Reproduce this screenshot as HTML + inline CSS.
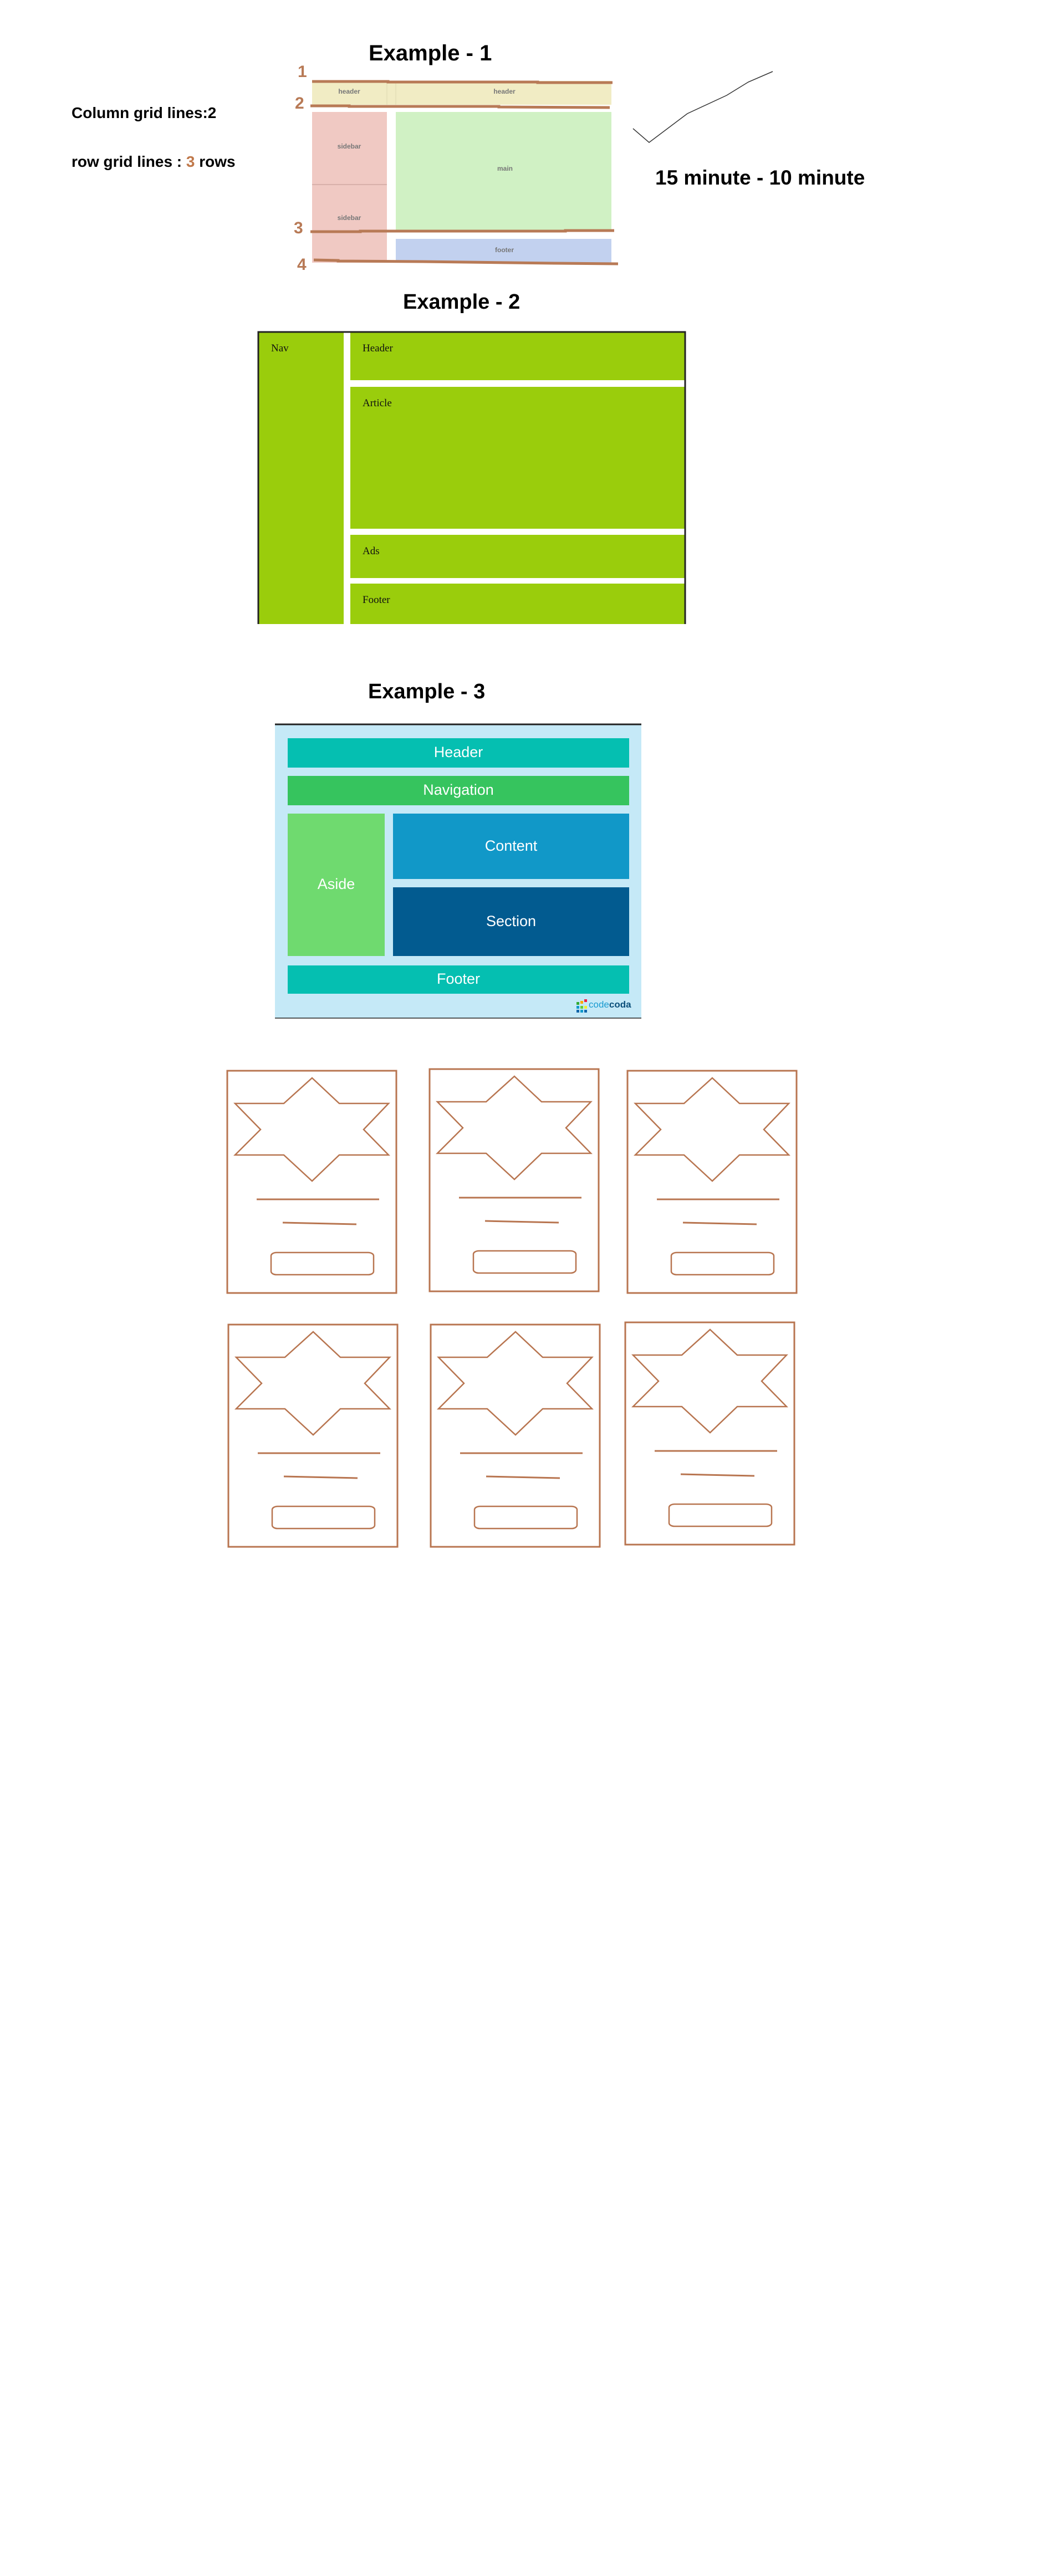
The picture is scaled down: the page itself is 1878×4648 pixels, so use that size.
<!DOCTYPE html>
<html><head><meta charset="utf-8"><style>
body{margin:0;width:1878px;height:4648px;background:#fff;position:relative;overflow:hidden;font-family:"Liberation Sans",sans-serif}
.t{position:absolute;white-space:nowrap}
.b{font-weight:bold;color:#000}
.ser{font-family:"Liberation Serif",serif;font-size:19px;color:#111}
.w{color:#fff;font-size:27px;text-align:center}
.sm{font-size:12px;font-weight:bold;color:#777;transform:translateX(-50%)}
.n{color:#b87a56;font-weight:bold;font-size:30px}
</style></head><body>
<svg width="1878" height="4648" style="position:absolute;left:0;top:0">
<rect x="563" y="146" width="540" height="43" fill="#f1ecc4"/>
<line x1="698" y1="146" x2="698" y2="189" stroke="#ddd8b0"/><line x1="714" y1="146" x2="714" y2="189" stroke="#ddd8b0"/>
<rect x="563" y="202" width="135" height="272" fill="#f0c9c3"/>
<line x1="563" y1="333" x2="698" y2="333" stroke="#d8b0aa" stroke-width="2"/>
<rect x="714" y="202" width="389" height="214" fill="#d0f1c4"/>
<rect x="714" y="431" width="389" height="43" fill="#c2d1ef"/>
<g stroke="#b87a56" stroke-width="5" fill="none">
<polyline points="563,147 700,147 700,148 970,148 970,149 1105,149"/>
<polyline points="560,191 630,191 630,192 900,192 900,193 1100,194"/>
<polyline points="560,418 650,418 650,417 1020,417 1020,416 1108,416"/>
<polyline points="566,469 610,470 610,471 760,472 840,473 1000,475 1115,476"/>
</g>
<polyline points="1142,232 1171,257 1240,205 1311,172 1350,148 1394,129" fill="none" stroke="#333" stroke-width="1.5"/>
<rect x="466" y="599" width="770" height="527" fill="#9acd0c"/>
<rect x="620" y="600" width="12" height="526" fill="#fff"/>
<rect x="632" y="686" width="604" height="12" fill="#fff"/>
<rect x="632" y="954" width="604" height="11" fill="#fff"/>
<rect x="632" y="1043" width="604" height="10" fill="#fff"/>
<polyline points="466,1126 466,599 1236,599 1236,1126" fill="none" stroke="#222" stroke-width="3"/>
<rect x="496" y="1307" width="661" height="530" fill="#c5e9f7"/>
<line x1="496" y1="1307" x2="1157" y2="1307" stroke="#222" stroke-width="3"/>
<line x1="496" y1="1837" x2="1157" y2="1837" stroke="#222" stroke-width="1.5"/>
<rect x="519" y="1332" width="616" height="53" fill="#05bfb1"/>
<rect x="519" y="1400" width="616" height="53" fill="#36c45e"/>
<rect x="519" y="1468" width="175" height="257" fill="#6fda6f"/>
<rect x="709" y="1468" width="426" height="118" fill="#1198c8"/>
<rect x="709" y="1601" width="426" height="124" fill="#025b90"/>
<rect x="519" y="1742" width="616" height="51" fill="#05bfb1"/>
<g><rect x="1040" y="1808" width="5" height="5" fill="#3a3"/><rect x="1047" y="1806" width="5" height="5" fill="#fa0"/><rect x="1054" y="1803" width="5" height="5" fill="#e24"/>
<rect x="1040" y="1815" width="5" height="5" fill="#19c"/><rect x="1047" y="1815" width="5" height="5" fill="#6c3"/><rect x="1054" y="1815" width="5" height="5" fill="#ee3"/>
<rect x="1040" y="1822" width="5" height="5" fill="#16a"/><rect x="1047" y="1822" width="5" height="5" fill="#19c"/><rect x="1054" y="1822" width="5" height="5" fill="#16a"/></g>
<defs><g id="card" fill="none" stroke="#b87550" stroke-width="3">
<rect x="0" y="0" width="305" height="401"/>
<polygon points="153,13 202,59 291,59 246,106 291,152 202,152 153,199 102,152 14,152 60,106 14,59 102,59" stroke-width="2.5"/>
<line x1="53" y1="232" x2="274" y2="232"/>
<line x1="100" y1="274" x2="233" y2="277"/>
<rect x="79" y="328" width="185" height="40" rx="10" ry="6" stroke-width="2.5"/>
</g></defs>
<use href="#card" x="410" y="1932"/>
<use href="#card" x="775" y="1929"/>
<use href="#card" x="1132" y="1932"/>
<use href="#card" x="412" y="2390"/>
<use href="#card" x="777" y="2390"/>
<use href="#card" x="1128" y="2386"/>
</svg>
<div class="t b" style="left:665px;top:74px;font-size:40px">Example - 1</div>
<div class="t n" style="left:537px;top:113px">1</div>
<div class="t n" style="left:532px;top:170px">2</div>
<div class="t n" style="left:530px;top:395px">3</div>
<div class="t n" style="left:536px;top:461px">4</div>
<div class="t sm" style="left:630px;top:158px">header</div>
<div class="t sm" style="left:910px;top:158px">header</div>
<div class="t sm" style="left:630px;top:257px">sidebar</div>
<div class="t sm" style="left:630px;top:386px">sidebar</div>
<div class="t sm" style="left:911px;top:297px">main</div>
<div class="t sm" style="left:910px;top:444px">footer</div>
<div class="t b" style="left:129px;top:188px;font-size:28px">Column grid lines:2</div>
<div class="t b" style="left:129px;top:276px;font-size:28px">row grid lines : <span style="color:#c0784a">3</span> rows</div>
<div class="t b" style="left:1182px;top:300px;font-size:37px">15 minute - 10 minute</div>
<div class="t b" style="left:727px;top:524px;font-size:38px">Example - 2</div>
<div class="t ser" style="left:489px;top:618px">Nav</div>
<div class="t ser" style="left:654px;top:618px">Header</div>
<div class="t ser" style="left:654px;top:717px">Article</div>
<div class="t ser" style="left:654px;top:984px">Ads</div>
<div class="t ser" style="left:654px;top:1072px">Footer</div>
<div class="t b" style="left:664px;top:1227px;font-size:38px">Example - 3</div>
<div class="t w" style="left:519px;width:616px;top:1342px">Header</div>
<div class="t w" style="left:519px;width:616px;top:1410px">Navigation</div>
<div class="t w" style="left:519px;width:175px;top:1580px">Aside</div>
<div class="t w" style="left:709px;width:426px;top:1511px">Content</div>
<div class="t w" style="left:709px;width:426px;top:1647px">Section</div>
<div class="t w" style="left:519px;width:616px;top:1751px">Footer</div>
<div class="t" style="left:1062px;top:1803px;font-size:17px;color:#1a9bd0">code<b style="color:#0b4f7a">coda</b></div>
</body></html>
